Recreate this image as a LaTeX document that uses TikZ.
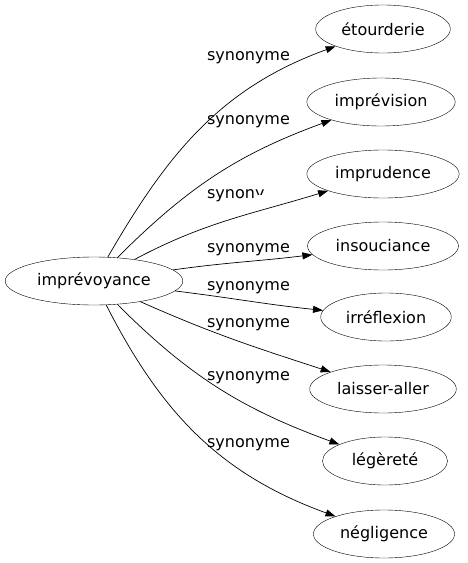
\documentclass[tikz,border=0pt]{standalone}
\usepackage{fontspec}
\setmainfont{DejaVu Sans}
\usetikzlibrary{shapes.geometric,arrows.meta}

\tikzset{
  word/.style={draw, ellipse, inner xsep=6pt, inner ysep=2pt, minimum height=48pt, font=\fontsize{16}{19}\selectfont},
  term/.style={word, minimum width=125pt},
  lbl/.style={inner sep=0pt, font=\fontsize{16}{19}\selectfont},
  syn/.style={-{Triangle[length=10pt,width=7pt]}, line width=0.7pt}
}

\begin{document}
\begin{tikzpicture}[x=1pt,y=-1pt]
        % Paths, nodes and wires:
        \useasboundingbox (0,0) rectangle (467,563);
        \draw node[word] (N0) at (94, 281) {imprévoyance};
        \draw node[term] (N1) at (383, 29) {étourderie};
        \draw node[term] (N2) at (381, 102) {imprévision};
        \draw node[term] (N3) at (383, 174) {imprudence};
        \draw node[term] (N4) at (383, 246) {insouciance};
        \draw node[term] (N5) at (386, 317) {irréflexion};
        \draw node[term] (N6) at (383, 389) {laisser-aller};
        \draw node[term] (N7) at (385, 461) {légèreté};
        \draw node[term] (N8) at (384, 534) {négligence};
        \draw[syn] (N0) to[out=60, in=200] (N1);
        \draw[syn] (N0) to[out=45, in=200] (N2);
        \draw[syn] (N0) to[out=28, in=197] (N3);
        \draw[syn] (N0) to[out=8, in=187] (N4);
        \draw[syn] (N0) to[out=-7, in=174] (N5);
        \draw[syn] (N0) to[out=-24, in=162] (N6);
        \draw[syn] (N0) to[out=-45, in=160] (N7);
        \draw[syn] (N0) to[out=-63, in=160] (N8);
        \node[lbl] (L1) at (248.5, 57.5) {synonyme};
        \node[lbl] (L2) at (248.5, 121.5) {synonyme};
        \begin{scope}
          \clip (200, 175) rectangle (255, 215) (255, 175) rectangle (264.3, 194.3);
          \node[lbl] (L3) at (248.5, 195.5) {synonyme};
        \end{scope}
        \node[lbl] (L4) at (248.5, 249.5) {synonyme};
        \node[lbl] (L5) at (248.5, 287.5) {synonyme};
        \node[lbl] (L6) at (248.5, 324.5) {synonyme};
        \node[lbl] (L7) at (248.5, 377.5) {synonyme};
        \node[lbl] (L8) at (248.5, 444.5) {synonyme};
      \end{tikzpicture}
\end{document}
